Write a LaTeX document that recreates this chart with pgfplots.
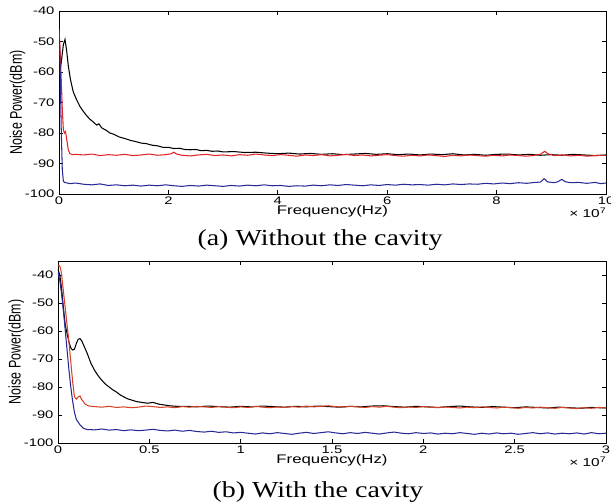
\documentclass[border=0pt]{standalone}
\usepackage{fontspec}
\usepackage{graphicx}
\usepackage{pgfplots}
\pgfplotsset{compat=1.18}
\newfontfamily\mfont{Liberation Sans}[FakeStretch=1.35]
\newfontfamily\mfontplain{Liberation Sans}
\newfontfamily\capfont{Liberation Serif}[FakeStretch=1.22]
\definecolor{redA}{RGB}{225,35,35}
\definecolor{redB}{RGB}{215,65,35}
\definecolor{navy}{RGB}{40,40,150}
\pgfplotsset{mstyle/.style={
  scale only axis, clip=true,
  axis line style={line width=0.9pt},
  tick align=inside, tick pos=both,
  major tick length=4bp,
  tick style={black, line width=0.8pt},
  /pgf/number format/assume math mode=true,
  tick label style={font=\mfont\fontsize{11}{12}\selectfont},
  xticklabel style={yshift=1bp},
  yticklabel style={xshift=-1bp},
  ytick={-100,-90,...,-40},
  ylabel={\scalebox{1}[1.35]{\mfontplain\fontsize{12.5}{14}\selectfont Noise Power(dBm)}},
  ylabel style={at={(axis description cs:-0.076,0.5)}, anchor=center},
  xlabel={Frequency(Hz)},
  xlabel style={font=\mfont\fontsize{12.5}{14}\selectfont, at={(axis description cs:0.5,0)}, anchor=north, yshift=-11.5bp, inner sep=0pt},
  every axis plot/.append style={line width=1.05pt},
}}
\begin{document}
\begin{tikzpicture}
\useasboundingbox (0,0) rectangle (611bp,504bp);
% ---------------- (a) without the cavity ----------------
\begin{axis}[mstyle, name=axA, at={(59bp,310bp)}, anchor=south west,
  width=547bp, height=183bp,
  xmin=0, xmax=10, ymin=-100, ymax=-40,
  xtick={0,2,...,10}]
\addplot[black] coordinates {
(0,-61) (0.04,-57) (0.08,-51) (0.11,-49.3) (0.14,-53) (0.17,-58) (0.21,-62.5)
(0.26,-66.5) (0.32,-69) (0.38,-71.2) (0.44,-72.8) (0.5,-74.2) (0.56,-75.4)
(0.62,-76.3) (0.69,-77.4) (0.73,-77.0) (0.78,-78.3) (0.87,-79.2) (0.93,-80)
(1.0,-80.4) (1.1,-81.3) (1.2,-81.8) (1.3,-82.4) (1.4,-82.8) (1.5,-83.3)
(1.6,-83.5) (1.7,-84.0) (1.8,-84.2) (1.9,-84.7) (2.0,-84.7) (2.1,-85.1)
(2.2,-85.0) (2.3,-85.4) (2.4,-85.5) (2.5,-85.4) (2.6,-85.8) (2.7,-85.7)
(2.8,-86.0) (2.9,-85.9) (3.0,-86.2) (3.2,-86.1) (3.4,-86.4) (3.6,-86.3)
(3.8,-86.6) (4.0,-86.8) (4.2,-86.6) (4.4,-86.9) (4.6,-86.7) (4.8,-87.0)
(5.0,-86.8) (5.2,-87.1) (5.4,-86.9) (5.6,-86.7) (5.8,-87.0) (6.0,-86.8)
(6.2,-87.1) (6.4,-86.9) (6.6,-87.2) (6.8,-86.9) (7.0,-87.1) (7.2,-86.8)
(7.4,-87.2) (7.6,-87.0) (7.8,-87.3) (8.0,-87.0) (8.2,-86.9) (8.4,-87.2)
(8.6,-87.0) (8.8,-87.3) (9.0,-87.1) (9.2,-87.3) (9.4,-87.0) (9.6,-87.2)
(9.8,-87.4) (10,-87.2)
};
\addplot[redA] coordinates {
(0,-46) (0.02,-52) (0.04,-62) (0.06,-72) (0.08,-79) (0.10,-80) (0.12,-79.5)
(0.14,-82) (0.17,-85.5) (0.2,-86.8) (0.25,-87.1)
(0.30,-87.0) (0.45,-87.2) (0.60,-86.9) (0.75,-87.4) (0.90,-87.1) (1.05,-87.3)
(1.20,-87.0) (1.35,-87.4) (1.50,-87.2) (1.65,-86.9) (1.80,-87.3) (1.95,-87.1)
(2.05,-86.8) (2.10,-86.3) (2.15,-86.9) (2.25,-87.3) (2.40,-87.5) (2.55,-87.2)
(2.70,-87.0) (2.85,-87.4) (3.00,-87.2) (3.15,-87.5) (3.30,-87.1) (3.45,-87.3)
(3.60,-86.9) (3.75,-87.2) (3.90,-87.4) (4.05,-87.1) (4.20,-87.3) (4.35,-87.6)
(4.50,-87.2) (4.65,-87.4) (4.80,-87.1) (4.95,-87.5) (5.10,-87.3) (5.25,-87.0)
(5.40,-87.4) (5.55,-87.2) (5.70,-87.5) (5.85,-87.3) (6.00,-87.1) (6.15,-87.4)
(6.30,-87.6) (6.45,-87.3) (6.60,-87.5) (6.75,-87.2) (6.90,-87.4) (7.05,-87.7)
(7.20,-87.3) (7.35,-87.5) (7.50,-87.2) (7.65,-87.4) (7.80,-87.6) (7.95,-87.3)
(8.10,-87.5) (8.25,-87.2) (8.40,-87.4) (8.55,-87.6) (8.70,-87.3) (8.80,-87.0)
(8.88,-86.0) (8.94,-86.8) (9.05,-87.4) (9.20,-87.2) (9.35,-87.5) (9.50,-87.3)
(9.65,-87.6) (9.80,-87.4) (10.0,-87.3)
};
\addplot[navy] coordinates {
(0,-47) (0.02,-58) (0.04,-78) (0.06,-92) (0.08,-95.8) (0.10,-96.2) (0.20,-96.6)
(0.30,-96.4) (0.45,-96.8) (0.60,-97.0) (0.75,-96.7) (0.90,-97.2) (1.05,-97.0)
(1.20,-97.3) (1.35,-97.1) (1.50,-97.4) (1.65,-97.1) (1.80,-97.3) (1.95,-97.0)
(2.10,-97.3) (2.25,-97.5) (2.40,-97.2) (2.55,-97.4) (2.70,-97.1) (2.85,-97.3)
(3.00,-97.5) (3.15,-97.2) (3.30,-97.4) (3.45,-97.1) (3.60,-97.3) (3.75,-97.0)
(3.90,-97.3) (4.05,-97.2) (4.20,-97.5) (4.35,-97.3) (4.50,-97.4) (4.65,-97.1)
(4.80,-97.3) (4.95,-97.0) (5.10,-97.2) (5.25,-96.9) (5.40,-97.1) (5.55,-97.3)
(5.70,-97.0) (5.85,-97.2) (6.00,-96.9) (6.15,-97.1) (6.30,-96.8) (6.45,-97.0)
(6.60,-96.9) (6.75,-97.1) (6.90,-96.8) (7.05,-97.0) (7.20,-96.7) (7.35,-96.9)
(7.50,-96.7) (7.65,-96.8) (7.80,-96.5) (7.95,-96.7) (8.10,-96.4) (8.25,-96.6)
(8.40,-96.3) (8.55,-96.5) (8.70,-96.2) (8.80,-96.1) (8.87,-95.0) (8.93,-96.0)
(9.05,-96.3) (9.12,-96.0) (9.19,-95.2) (9.26,-96.0) (9.35,-96.3) (9.50,-96.2)
(9.65,-96.5) (9.80,-96.2) (9.90,-96.6) (10.0,-96.4)
};
\end{axis}
\node[anchor=north east, inner sep=0pt, xshift=0bp, yshift=-14bp, font=\mfont\fontsize{11.5}{13}\selectfont]
  at (axA.south east) {× 10\raisebox{0.6ex}{\fontsize{8}{9}\selectfont 7}};
% ---------------- (b) with the cavity ----------------
\begin{axis}[mstyle, name=axB, at={(58bp,61bp)}, anchor=south west,
  width=548bp, height=182bp,
  xmin=0, xmax=3, ymin=-100, ymax=-35,
  xtick={0,0.5,...,3}]
\addplot[black] coordinates {
(0,-38) (0.01,-40) (0.02,-45) (0.03,-52) (0.04,-58) (0.05,-61) (0.06,-64)
(0.07,-66) (0.08,-66.8) (0.09,-66.5) (0.10,-64.5) (0.11,-63) (0.12,-62.7)
(0.13,-63.5) (0.14,-65) (0.16,-68) (0.18,-71.5) (0.20,-74) (0.22,-76)
(0.24,-77.6) (0.26,-79) (0.28,-80) (0.30,-81) (0.32,-81.8) (0.34,-82.8)
(0.36,-83.5) (0.38,-84.2) (0.40,-84.6) (0.43,-85.2) (0.46,-85.5) (0.49,-85.8)
(0.52,-85.5) (0.55,-86.1) (0.58,-86.4) (0.61,-86.7) (0.65,-86.9) (0.70,-86.9)
(0.76,-87.1) (0.82,-86.8) (0.88,-87.0) (0.94,-87.2) (1.00,-86.9) (1.06,-87.1)
(1.12,-86.8) (1.18,-87.0) (1.24,-87.2) (1.30,-86.9) (1.36,-87.1) (1.42,-86.8)
(1.48,-87.0) (1.54,-87.2) (1.60,-86.9) (1.66,-87.1) (1.72,-86.8) (1.78,-86.7)
(1.84,-87.0) (1.90,-87.2) (1.96,-86.9) (2.02,-87.1) (2.08,-87.3) (2.14,-87.0)
(2.20,-86.8) (2.26,-87.1) (2.32,-87.3) (2.38,-87.0) (2.44,-87.2) (2.50,-87.4)
(2.56,-87.1) (2.62,-87.3) (2.68,-87.5) (2.74,-87.2) (2.80,-87.4) (2.86,-87.6)
(2.92,-87.3) (3.00,-87.5)
};
\addplot[redB] coordinates {
(0,-36.5) (0.01,-36.8) (0.015,-38) (0.02,-40) (0.03,-46) (0.04,-52) (0.05,-58)
(0.06,-64) (0.07,-71) (0.08,-78) (0.09,-83.5) (0.10,-84.3) (0.11,-83.6)
(0.12,-83.2) (0.13,-84.5) (0.15,-86.2) (0.17,-86.8)
(0.20,-87.0) (0.24,-87.2) (0.28,-86.9) (0.32,-87.3) (0.36,-87.1) (0.40,-87.4)
(0.44,-87.2) (0.48,-86.8) (0.52,-87.0) (0.56,-87.3) (0.60,-87.1) (0.64,-87.4)
(0.68,-87.0) (0.72,-87.2) (0.76,-86.9) (0.80,-87.1) (0.84,-87.3) (0.88,-87.0)
(0.92,-87.2) (0.96,-87.4) (1.00,-87.1) (1.04,-87.3) (1.08,-86.9) (1.12,-87.2)
(1.16,-87.4) (1.20,-87.1) (1.24,-87.3) (1.28,-87.0) (1.32,-87.2) (1.36,-86.8)
(1.40,-87.1) (1.44,-86.9) (1.48,-86.7) (1.52,-87.0) (1.56,-87.2) (1.60,-86.9)
(1.64,-87.1) (1.68,-87.3) (1.72,-87.0) (1.76,-87.2) (1.80,-86.9) (1.84,-87.2)
(1.88,-87.4) (1.92,-87.1) (1.96,-87.3) (2.00,-87.0) (2.04,-87.2) (2.08,-87.4)
(2.12,-87.1) (2.16,-87.3) (2.20,-87.5) (2.24,-87.2) (2.28,-87.4) (2.32,-87.1)
(2.36,-87.3) (2.40,-87.5) (2.44,-87.2) (2.48,-87.4) (2.52,-87.6) (2.56,-87.3)
(2.60,-87.5) (2.64,-87.2) (2.68,-87.4) (2.72,-87.6) (2.76,-87.3) (2.80,-87.5)
(2.84,-87.7) (2.88,-87.4) (2.92,-87.6) (2.96,-87.3) (3.00,-87.5)
};
\addplot[navy] coordinates {
(0,-39) (0.01,-42) (0.02,-47) (0.03,-53) (0.04,-60) (0.05,-67) (0.06,-74)
(0.07,-80) (0.08,-85) (0.09,-89) (0.10,-91.5) (0.12,-93.5) (0.14,-94.8)
(0.16,-95.2) (0.20,-95.3) (0.24,-95.0) (0.28,-95.4) (0.32,-95.2) (0.36,-95.6)
(0.40,-95.3) (0.44,-95.6) (0.48,-95.4) (0.52,-95.1) (0.56,-95.5) (0.60,-95.7)
(0.64,-95.4) (0.68,-95.8) (0.72,-95.5) (0.76,-95.9) (0.80,-96.1) (0.84,-95.8)
(0.88,-96.2) (0.92,-96.0) (0.96,-96.4) (1.00,-96.2) (1.04,-96.5) (1.08,-96.8)
(1.12,-96.4) (1.16,-96.7) (1.20,-96.3) (1.24,-96.6) (1.28,-96.9) (1.32,-96.5)
(1.36,-96.2) (1.40,-96.6) (1.44,-96.3) (1.48,-96.0) (1.52,-96.4) (1.56,-96.7)
(1.60,-96.3) (1.64,-96.6) (1.68,-96.2) (1.72,-96.5) (1.76,-96.8) (1.80,-96.4)
(1.84,-96.1) (1.88,-96.5) (1.92,-96.7) (1.96,-96.3) (2.00,-96.6) (2.04,-96.4)
(2.08,-96.8) (2.12,-96.5) (2.16,-96.7) (2.20,-96.3) (2.24,-96.6) (2.28,-96.9)
(2.32,-96.5) (2.36,-96.8) (2.40,-96.4) (2.44,-96.7) (2.48,-96.5) (2.52,-96.9)
(2.56,-96.6) (2.60,-96.3) (2.64,-96.7) (2.68,-96.4) (2.72,-96.8) (2.76,-96.5)
(2.80,-96.7) (2.84,-96.4) (2.88,-96.8) (2.92,-96.3) (2.96,-96.7) (3.00,-96.5)
};
\end{axis}
\node[anchor=north east, inner sep=0pt, xshift=0bp, yshift=-14bp, font=\mfont\fontsize{11.5}{13}\selectfont]
  at (axB.south east) {× 10\raisebox{0.6ex}{\fontsize{8}{9}\selectfont 7}};
\node[font=\capfont\fontsize{23}{25}\selectfont] at (320bp,264bp) {(a) Without the cavity};
\node[font=\capfont\fontsize{23}{25}\selectfont] at (318bp,12bp) {(b) With the cavity};
\end{tikzpicture}
\end{document}
